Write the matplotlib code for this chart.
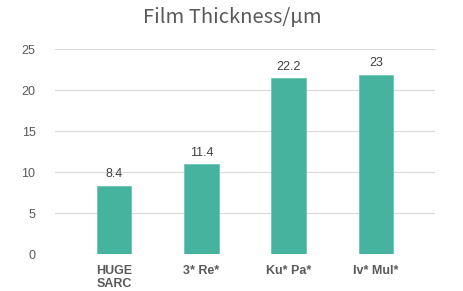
import matplotlib.pyplot as plt

categories = ["HUGE\nSARC", "3* Re*", "Ku* Pa*", "Iv* Mul*"]
# bar heights as drawn in the picture (labels don't quite match the bars)
heights = [8.35, 10.95, 21.45, 21.9]
value_labels = ["8.4", "11.4", "22.2", "23"]
yticks = [0, 5, 10, 15, 20, 25]

fig = plt.figure(figsize=(4.64, 2.91), dpi=100)
ax = fig.add_axes([0.1185, 0.127, 0.819, 0.7036])

x = range(len(categories))
bars = ax.bar(x, heights, width=0.4, color='#45B39D', edgecolor='#6CC7B2', linewidth=0.6, zorder=3)

for b, lab in zip(bars, value_labels):
    ax.annotate(lab, (b.get_x() + b.get_width() / 2, b.get_height()),
                xytext=(0, 4), textcoords='offset points', ha='center', va='bottom',
                fontsize=9, color='#404040', family='Liberation Sans')

ax.set_xlim(-0.676, 3.676)
ax.set_ylim(0, 25)
ax.set_yticks(yticks)
ax.grid(axis='y', color='#D9D9D9', linewidth=0.8, zorder=0)
for s in ax.spines.values():
    s.set_visible(False)
ax.tick_params(axis='both', length=0)
ax.tick_params(axis='y', pad=14, labelsize=9, labelcolor='#595959')
ax.tick_params(axis='x', pad=8, labelsize=9, labelcolor='#595959')
ax.set_xticks(list(x))
ax.set_xticklabels(categories, fontweight='bold', family='Liberation Sans',
                   linespacing=1.1, multialignment='center')
for t in ax.get_yticklabels():
    t.set_family('Liberation Sans')

fig.text(0.5, 0.94, "Film Thickness/μm", ha='center', va='center', fontsize=14.5,
         color='#595959', family=['Noto Sans CJK SC', 'DejaVu Sans'])

fig.savefig('out.png', dpi=100)
